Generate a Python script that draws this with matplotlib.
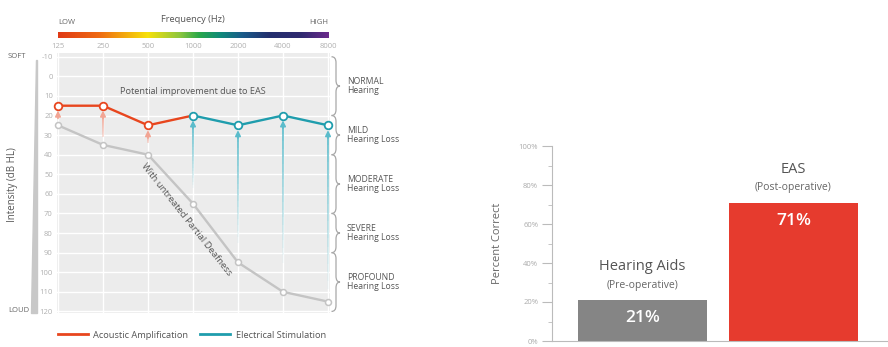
import numpy as np
import matplotlib
matplotlib.use('Agg')
import matplotlib.pyplot as plt
from matplotlib.colors import LinearSegmentedColormap
from matplotlib.lines import Line2D
from matplotlib.path import Path
from matplotlib.patches import PathPatch, Polygon
from matplotlib.collections import LineCollection

plt.rcParams['font.family'] = ['Open Sans', 'DejaVu Sans']
plt.rcParams['axes.unicode_minus'] = False

# audiogram data
freq_labels = ['125', '250', '500', '1000', '2000', '4000', '8000']
db_ticks = [-10, 0, 10, 20, 30, 40, 50, 60, 70, 80, 90, 100, 110, 120]
aided_db = [15, 15, 25, 20, 25, 20, 25]
unaided_db = [25, 35, 40, 65, 95, 110, 115]
arrow_tail_db = [21, 31, 34, 59, 88, 99, 113]
acoustic_idx = [0, 1, 2, 3]
electric_idx = [3, 4, 5, 6]
bands = [(-10, 20, 'NORMAL', 'Hearing'), (20, 40, 'MILD', 'Hearing Loss'),
         (40, 70, 'MODERATE', 'Hearing Loss'), (70, 90, 'SEVERE', 'Hearing Loss'),
         (90, 120, 'PROFOUND', 'Hearing Loss')]

# bar chart data
groups = ['Hearing Aids', 'EAS']
subtitles = ['(Pre-operative)', '(Post-operative)']
percent = [21, 71]

RED = '#e8461e'
TEAL = '#1f9dad'
GRAY = '#c4c4c4'

W, H = 888, 347
fig = plt.figure(figsize=(W / 100, H / 100), dpi=100)


def box(x0, y0, x1, y1):
    return [x0 / W, 1 - y1 / H, (x1 - x0) / W, (y1 - y0) / H]


# ---------- audiogram ----------
ax = fig.add_axes(box(57, 53, 330, 313))
ax.set_facecolor('#ececec')
ax.set_xlim(-0.022, 6.044)
ax.set_ylim(120.8, -11.9)
x = np.arange(len(freq_labels))
ax.set_yticks(db_ticks)
ax.set_xticks(x)
ax.set_xticklabels(freq_labels)
for i, lab in enumerate(ax.get_xticklabels()):
    lab.set_ha('left' if i == 0 else ('right' if i == len(x) - 1 else 'center'))
ax.xaxis.tick_top()
ax.tick_params(length=0, labelsize=5.5, labelcolor='#b0b0b0')
ax.tick_params(axis='x', pad=2)
ax.tick_params(axis='y', pad=3)
ax.grid(True, color='white', lw=1)
ax.set_axisbelow(True)
for s in ax.spines.values():
    s.set_visible(False)

# arrows (faded shafts)
for i in x:
    col = '#f2a594' if i in acoustic_idx[:3] else '#5bbccb'
    tip = aided_db[i] + 2.5
    tail = arrow_tail_db[i]
    ys = np.linspace(tail, tip + 3, 20)
    segs = [[(i, ys[k]), (i, ys[k + 1])] for k in range(len(ys) - 1)]
    alphas = np.linspace(0.0, 1.0, len(segs)) if i >= 3 else np.linspace(0.4, 1.0, len(segs))
    cols = [matplotlib.colors.to_rgba(col, a) for a in alphas]
    ax.add_collection(LineCollection(segs, colors=cols, lw=1.2))
    ax.annotate('', xy=(i, tip), xytext=(i, tip + 4),
                arrowprops=dict(arrowstyle='-|>', color=col, lw=1.2,
                                mutation_scale=8, shrinkA=0, shrinkB=0))

ax.plot(x, unaided_db, color=GRAY, lw=1.7, marker='o', ms=4.3, mfc='white',
        mec=GRAY, mew=1.1, clip_on=False, zorder=3)
ax.plot(x[acoustic_idx], np.array(aided_db)[acoustic_idx], color=RED, lw=1.7, zorder=4)
ax.plot(x[electric_idx], np.array(aided_db)[electric_idx], color=TEAL, lw=1.7, zorder=4)
ax.plot(x[acoustic_idx[:3]], np.array(aided_db)[acoustic_idx[:3]], ls='none', marker='o',
        ms=5.5, mfc='white', mec=RED, mew=1.3, clip_on=False, zorder=5)
ax.plot(x[electric_idx], np.array(aided_db)[electric_idx], ls='none', marker='o',
        ms=5.5, mfc='white', mec=TEAL, mew=1.3, clip_on=False, zorder=5)

ax.text(3, 8, 'Potential improvement due to EAS', ha='center', va='center',
        fontsize=6.6, color='#555555')
ax.text(2.86, 73.3, 'With untreated Partial Deafness', ha='center', va='center',
        rotation=-51.7, rotation_mode='anchor', fontsize=6.8, color='#555555')

# frequency colour bar
cax = fig.add_axes(box(58, 32, 328, 38))
cmap = LinearSegmentedColormap.from_list('freq', [
    (0.0, '#e03a16'), (0.15, '#ef6a12'), (0.33, '#f7e10a'), (0.45, '#8cc63f'),
    (0.52, '#2aa84a'), (0.6, '#0f8a7a'), (0.68, '#1a5c8a'), (0.78, '#23306e'),
    (0.9, '#302a70'), (1.0, '#6b2a8c')])
cax.imshow(np.linspace(0, 1, 256)[None, :], aspect='auto', cmap=cmap)
cax.axis('off')
fig.text(58 / W, 1 - 23 / H, 'LOW', ha='left', va='center', fontsize=5.5, color='#666666')
fig.text(328 / W, 1 - 23 / H, 'HIGH', ha='right', va='center', fontsize=5.5, color='#666666')
fig.text(193 / W, 1 - 20 / H, 'Frequency (Hz)', ha='center', va='center', fontsize=6.7, color='#555555')

# intensity side
fig.text(8 / W, 1 - 56 / H, 'SOFT', ha='left', va='center', fontsize=5.5, color='#666666')
fig.text(8 / W, 1 - 311 / H, 'LOUD', ha='left', va='center', fontsize=5.5, color='#666666')
fig.text(12 / W, 1 - 185 / H, 'Intensity (dB HL)', ha='center', va='center', rotation=90,
         fontsize=7, color='#555555')
fig.patches.append(Polygon([(35.5 / W, 1 - 60 / H), (36.5 / W, 1 - 60 / H),
                            (36.5 / W, 1 - 313 / H), (31 / W, 1 - 313 / H)],
                           closed=True, transform=fig.transFigure, color='#c8c8c8'))

# braces
bx = fig.add_axes(box(329, 53, 341, 313))
bx.set_xlim(329, 341)
bx.set_ylim(120.8, -11.9)
bx.axis('off')
xh, xl, xt, d = 331.5, 336, 340, 3.0
for y0, y1, name, sub in bands:
    m = (y0 + y1) / 2
    verts = [(xh, y0), (xl, y0), (xl, y0 + d),
             (xl, m - d),
             (xl, m), (xt, m),
             (xl, m), (xl, m + d),
             (xl, y1 - d),
             (xl, y1), (xh, y1)]
    codes = [Path.MOVETO, Path.CURVE3, Path.CURVE3,
             Path.LINETO,
             Path.CURVE3, Path.CURVE3,
             Path.CURVE3, Path.CURVE3,
             Path.LINETO,
             Path.CURVE3, Path.CURVE3]
    bx.add_patch(PathPatch(Path(verts, codes), fill=False, ec='#a8a8a8', lw=0.9, clip_on=False))
    bx.text(347, m, name + '\n' + sub, ha='left', va='center', fontsize=6.2,
            color='#555555', linespacing=1.0, clip_on=False)

# legend
handles = [Line2D([], [], color=RED, lw=2), Line2D([], [], color=TEAL, lw=2)]
fig.legend(handles, ['Acoustic Amplification', 'Electrical Stimulation'], loc='center',
           bbox_to_anchor=(192 / W, 1 - 335 / H), ncol=2, frameon=False, fontsize=6.7,
           handlelength=3.2, handletextpad=0.6, columnspacing=1.3, labelcolor='#555555')

# ---------- bar chart ----------
bax = fig.add_axes(box(552, 146, 888, 341))
bx_pos = np.arange(len(groups))
bars = bax.bar(bx_pos, percent, width=0.854, color=['#858585', '#e63b2e'])
bax.set_xlim(-0.599, 1.626)
bax.set_ylim(0, 100)
bax.set_yticks(range(0, 101, 20))
bax.set_yticklabels([f'{v}%' for v in range(0, 101, 20)])
bax.set_yticks(range(10, 100, 20), minor=True)
bax.set_xticks([])
bax.tick_params(axis='y', which='major', length=7, color='#bbbbbb', labelsize=5.5,
                labelcolor='#aaaaaa', pad=3)
bax.tick_params(axis='y', which='minor', length=3, color='#bbbbbb')
for s in ['top', 'right']:
    bax.spines[s].set_visible(False)
for s in ['left', 'bottom']:
    bax.spines[s].set_color('#bbbbbb')
    bax.spines[s].set_linewidth(0.8)
bax.set_ylabel('Percent Correct', fontsize=8, color='#666666')
bax.yaxis.set_label_coords(-0.145, 0.5)

for xp, v, g, sub in zip(bx_pos, percent, groups, subtitles):
    bax.annotate(f'{v}%', (xp, v), xytext=(0, -13), textcoords='offset points',
                 ha='center', va='center', fontsize=12.5, color='white', fontweight='semibold')
    bax.annotate(g, (xp, v), xytext=(0, 24), textcoords='offset points',
                 ha='center', va='center', fontsize=10.5, color='#555555')
    bax.annotate(sub, (xp, v), xytext=(0, 10.5), textcoords='offset points',
                 ha='center', va='center', fontsize=7.5, color='#666666')

fig.savefig('out.png', dpi=100)
